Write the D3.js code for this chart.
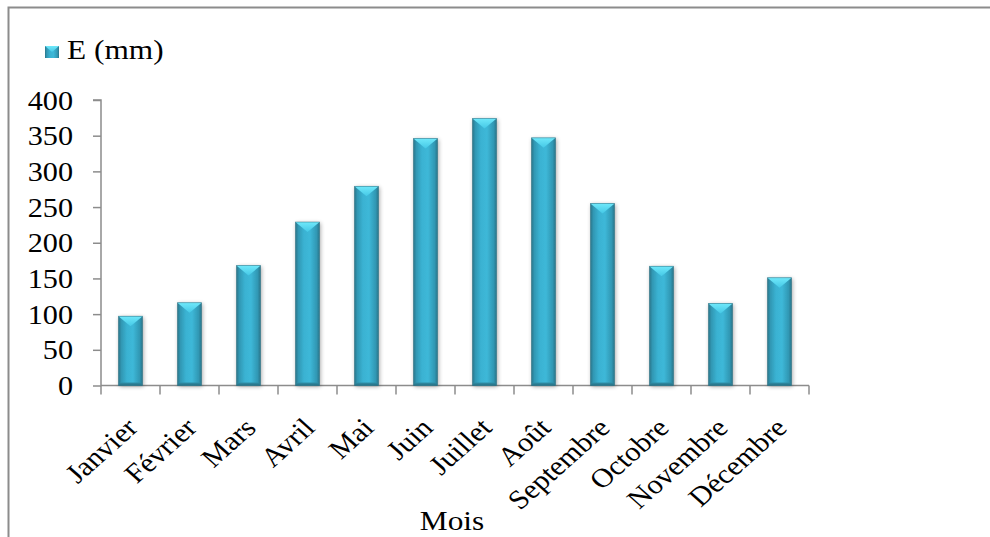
<!DOCTYPE html>
<html><head><meta charset="utf-8">
<script src="https://cdn.jsdelivr.net/npm/d3@7"></script>
<style>html,body{margin:0;padding:0;background:#fff;}svg{display:block;}</style>
</head><body>
<svg id="chart" width="990" height="537"></svg>
<script>
const categories = ["Janvier","Février","Mars","Avril","Mai","Juin","Juillet","Août","Septembre","Octobre","Novembre","Décembre"];
const values = [97, 116, 168, 229, 279, 346, 374, 347, 255, 167, 115, 151];
const yTicks = [0, 50, 100, 150, 200, 250, 300, 350, 400];
const seriesName = "E (mm)";
const xTitle = "Mois";

const svg = d3.select("#chart");
const font = "Liberation Serif, Times New Roman, serif";
const sx = 1.12; // horizontal glyph stretch seen in the reference
const pLeft = 101, pRight = 809, pTop = 100, pBottom = 385.5;

const x = d3.scaleBand().domain(categories).range([pLeft, pRight]).paddingInner(0.59).paddingOuter(0.295);
const y = d3.scaleLinear().domain([0, 400]).range([pBottom, pTop]);

const defs = svg.append("defs");
const g1 = defs.append("linearGradient").attr("id", "barGrad").attr("x1", "0").attr("x2", "1").attr("y1", "0").attr("y2", "0");
[["0%", "#2a7488"], ["12%", "#3197b3"], ["35%", "#3ab2d2"], ["60%", "#3db8d8"], ["88%", "#3197b3"], ["100%", "#2a7488"]]
  .forEach(s => g1.append("stop").attr("offset", s[0]).attr("stop-color", s[1]));
const g2 = defs.append("linearGradient").attr("id", "capGrad").attr("x1", "0").attr("x2", "0").attr("y1", "0").attr("y2", "1");
[["0%", "#6fe8fa"], ["100%", "#45c8e6"]].forEach(s => g2.append("stop").attr("offset", s[0]).attr("stop-color", s[1]));
const g3 = defs.append("linearGradient").attr("id", "botGrad").attr("x1", "0").attr("x2", "0").attr("y1", "0").attr("y2", "1");
[["0%", "#2f8fa8"], ["100%", "#276e82"]].forEach(s => g3.append("stop").attr("offset", s[0]).attr("stop-color", s[1]));
const flt = defs.append("filter").attr("id", "shadow").attr("x", "-30%").attr("y", "-10%").attr("width", "160%").attr("height", "120%");
flt.append("feGaussianBlur").attr("in", "SourceAlpha").attr("stdDeviation", 2).attr("result", "b");
flt.append("feOffset").attr("in", "b").attr("dx", 1).attr("dy", 1).attr("result", "o");
flt.append("feComponentTransfer").attr("in", "o").attr("result", "s").append("feFuncA").attr("type", "linear").attr("slope", 0.35);
const fm = flt.append("feMerge");
fm.append("feMergeNode").attr("in", "s");
fm.append("feMergeNode").attr("in", "SourceGraphic");

// outer frame
svg.append("rect").attr("x", 8.5).attr("y", 7.5).attr("width", 1100).attr("height", 700)
  .attr("fill", "none").attr("stroke", "#8c8c8c").attr("stroke-width", 2);

// axes
const yAxis = d3.axisLeft(y).tickValues(yTicks).tickSize(8);
const yg = svg.append("g").attr("transform", `translate(${pLeft},0)`).call(yAxis);
yg.select(".domain").attr("stroke", "#8c8c8c").attr("stroke-width", 1.5).attr("d", `M-8,${pTop}H0V${pBottom}`);
yg.selectAll(".tick line").attr("stroke", "#8c8c8c").attr("stroke-width", 1.5);
yg.selectAll(".tick text").attr("x", 0).attr("transform", `translate(-28,0) scale(${sx},1)`)
  .attr("text-anchor", "end").attr("dy", "0.34em")
  .style("font-family", font).style("font-size", "27px").attr("fill", "#000");

const tickPos = categories.map(c => x(c) - x.step() * x.paddingInner() / 2).concat([pRight]);
const xg = svg.append("g");
xg.append("line").attr("x1", pLeft).attr("x2", pRight).attr("y1", pBottom).attr("y2", pBottom).attr("stroke", "#8c8c8c").attr("stroke-width", 1.5);
xg.selectAll("line.t").data(tickPos).enter().append("line").attr("class", "t")
  .attr("x1", d => d).attr("x2", d => d).attr("y1", pBottom).attr("y2", pBottom + 9)
  .attr("stroke", "#8c8c8c").attr("stroke-width", 1.5);

// bars
const bars = svg.append("g").selectAll("g.bar").data(categories).enter().append("g").attr("class", "bar");
bars.each(function (c, i) {
  const gg = d3.select(this);
  const bx = x(c), bw = x.bandwidth(), by = y(values[i]), bh = y(0) - y(values[i]);
  gg.append("rect").attr("x", bx).attr("y", by).attr("width", bw).attr("height", bh)
    .attr("fill", "url(#barGrad)").attr("filter", "url(#shadow)");
  gg.append("path").attr("d", `M${bx},${by}L${bx + bw},${by}L${bx + bw / 2},${by + Math.min(10, bh / 2)}Z`)
    .attr("fill", "url(#capGrad)");
  gg.append("path").attr("d", `M${bx},${y(0)}L${bx + bw},${y(0)}L${bx + bw - 2},${y(0) - 3}L${bx + 2},${y(0) - 3}Z`)
    .attr("fill", "url(#botGrad)");
  gg.append("rect").attr("x", bx).attr("y", by).attr("width", bw).attr("height", bh)
    .attr("fill", "none").attr("stroke", "#2a6f82").attr("stroke-width", 0.8).attr("stroke-opacity", 0.6);
});

// x labels
svg.append("g").selectAll("text").data(categories).enter().append("text")
  .attr("transform", d => `translate(${x(d) + x.bandwidth() / 2 + 9},${pBottom + 44}) scale(${sx},1) rotate(-45)`)
  .attr("text-anchor", "end")
  .style("font-family", font).style("font-size", "27px").attr("fill", "#000")
  .text(d => d);

// axis title
svg.append("text").attr("transform", `translate(452,530) scale(${sx},1)`).attr("text-anchor", "middle")
  .style("font-family", font).style("font-size", "28px").attr("fill", "#000").text(xTitle);

// legend
const lg = svg.append("g");
lg.append("rect").attr("x", 45).attr("y", 46).attr("width", 14).attr("height", 12).attr("fill", "url(#barGrad)");
lg.append("path").attr("d", "M45,46L59,46L52,52Z").attr("fill", "url(#capGrad)");
lg.append("text").attr("transform", `translate(67,59) scale(${sx},1)`)
  .style("font-family", font).style("font-size", "28px").attr("fill", "#000").text(seriesName);
</script>
</body></html>
